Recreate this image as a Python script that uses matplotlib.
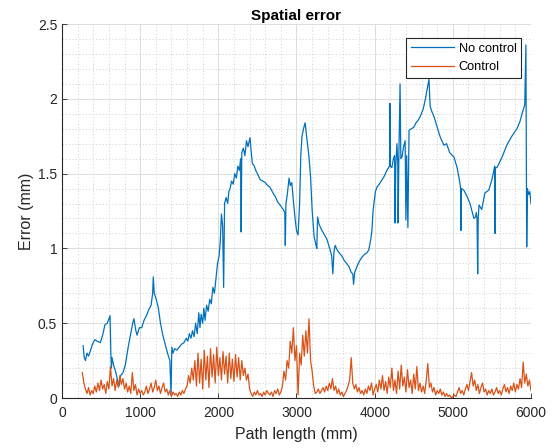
import numpy as np
import matplotlib
matplotlib.use("Agg")
import matplotlib.pyplot as plt
from matplotlib.ticker import MultipleLocator, FuncFormatter

# ---------------- data ----------------
title = "Spatial error"
xlabel = "Path length (mm)"
ylabel = "Error (mm)"
series_names = ["No control", "Control"]

nc_x = [270, 285, 300, 320, 340, 360, 390, 420, 450, 490, 520, 550, 580, 600, 615, 625, 632, 640, 660, 690,
        710, 730, 750, 780, 810, 850, 880, 905, 920, 945, 960, 990, 1020, 1050, 1080, 1110, 1140, 1160, 1168, 1180,
        1200, 1230, 1260, 1290, 1320, 1350, 1380, 1395, 1405, 1420, 1440, 1470, 1500, 1530, 1560, 1590, 1610, 1630, 1650, 1670,
        1690, 1710, 1730, 1750, 1765, 1780, 1800, 1815, 1830, 1850, 1870, 1890, 1910, 1930, 1950, 1970, 1990, 2010, 2025, 2040,
        2055, 2068, 2080, 2100, 2120, 2135, 2150, 2170, 2190, 2210, 2230, 2250, 2270, 2285, 2292, 2300, 2320, 2340, 2360, 2380,
        2405, 2420, 2435, 2460, 2480, 2500, 2535, 2570, 2600, 2630, 2660, 2700, 2725, 2760, 2790, 2830, 2850, 2857, 2865, 2880,
        2905, 2920, 2940, 2960, 2980, 3000, 3020, 3040, 3055, 3070, 3090, 3110, 3130, 3160, 3180, 3200, 3225, 3250, 3260, 3270,
        3290, 3325, 3360, 3390, 3430, 3450, 3465, 3480, 3495, 3520, 3545, 3580, 3610, 3640, 3670, 3700, 3720, 3730, 3745, 3775,
        3800, 3835, 3870, 3900, 3925, 3950, 3965, 3980, 3990, 4010, 4030, 4060, 4095, 4120, 4155, 4190, 4195, 4200, 4220, 4240,
        4255, 4260, 4270, 4285, 4295, 4300, 4310, 4325, 4335, 4350, 4370, 4390, 4400, 4410, 4425, 4440, 4470, 4500, 4530, 4560,
        4590, 4620, 4650, 4670, 4695, 4710, 4735, 4760, 4800, 4835, 4860, 4885, 4920, 4960, 5015, 5055, 5090, 5100, 5105, 5110,
        5140, 5180, 5220, 5250, 5270, 5290, 5300, 5310, 5318, 5325, 5335, 5370, 5410, 5460, 5500, 5525, 5535, 5540, 5545, 5565,
        5630, 5690, 5755, 5820, 5860, 5885, 5920, 5935, 5945, 5955, 5970, 5985, 6000]
nc_y = [0.35, 0.27, 0.25, 0.30, 0.28, 0.31, 0.36, 0.39, 0.38, 0.37, 0.42, 0.49, 0.50, 0.53, 0.55, 0.30, 0.20, 0.27, 0.22, 0.17,
        0.12, 0.08, 0.15, 0.17, 0.22, 0.35, 0.43, 0.50, 0.53, 0.45, 0.42, 0.47, 0.47, 0.52, 0.55, 0.59, 0.62, 0.70, 0.81, 0.70,
        0.67, 0.61, 0.50, 0.42, 0.36, 0.30, 0.25, 0.02, 0.34, 0.30, 0.33, 0.32, 0.34, 0.36, 0.37, 0.40, 0.38, 0.43, 0.40, 0.45,
        0.41, 0.50, 0.43, 0.57, 0.47, 0.56, 0.50, 0.60, 0.52, 0.62, 0.58, 0.66, 0.63, 0.74, 0.70, 0.80, 0.90, 0.95, 1.05, 1.23,
        1.15, 0.74, 1.30, 1.34, 1.30, 1.38, 1.40, 1.45, 1.43, 1.50, 1.47, 1.55, 1.52, 1.60, 1.11, 1.64, 1.67, 1.62, 1.72, 1.68,
        1.74, 1.65, 1.57, 1.55, 1.52, 1.50, 1.46, 1.45, 1.44, 1.42, 1.41, 1.37, 1.35, 1.31, 1.29, 1.26, 1.24, 1.02, 1.30, 1.35,
        1.47, 1.42, 1.44, 1.32, 1.21, 1.12, 1.09, 1.30, 1.62, 1.75, 1.80, 1.84, 1.75, 1.61, 1.48, 1.26, 1.08, 1.02, 1.00, 1.21,
        1.16, 1.12, 1.09, 1.06, 0.99, 0.95, 0.83, 0.98, 1.02, 0.99, 0.97, 0.95, 0.92, 0.90, 0.88, 0.84, 0.83, 0.76, 0.84, 0.88,
        0.91, 0.94, 0.96, 0.97, 0.99, 1.06, 1.12, 1.25, 1.30, 1.38, 1.41, 1.43, 1.46, 1.48, 1.52, 1.55, 1.97, 1.55, 1.54, 1.60,
        1.62, 1.17, 1.55, 1.70, 1.58, 1.17, 1.62, 2.10, 1.60, 1.61, 1.68, 1.72, 1.19, 1.62, 1.14, 1.79, 1.80, 1.81, 1.84, 1.86,
        1.89, 1.93, 2.00, 2.06, 2.13, 1.95, 1.91, 1.88, 1.81, 1.75, 1.72, 1.69, 1.70, 1.64, 1.61, 1.54, 1.44, 1.40, 1.12, 1.40,
        1.39, 1.35, 1.30, 1.24, 1.20, 1.21, 1.24, 1.20, 0.83, 1.20, 1.29, 1.26, 1.37, 1.39, 1.46, 1.52, 1.55, 1.10, 1.54, 1.54,
        1.61, 1.69, 1.75, 1.80, 1.85, 1.90, 1.96, 2.36, 1.01, 1.40, 1.36, 1.38, 1.30]

# Control series, given in segments (start x, end x, values at even spacing)
ctrl_a_range = (260, 1680)
ctrl_a = [0.17, 0.10, 0.06, 0.03, 0.07, 0.02, 0.05, 0.03, 0.08, 0.04, 0.10, 0.05, 0.12, 0.06, 0.09, 0.03, 0.11, 0.06, 0.21, 0.08,
          0.13, 0.05, 0.12, 0.07, 0.15, 0.09, 0.13, 0.06, 0.10, 0.04, 0.08, 0.03, 0.17, 0.05, 0.09, 0.02, 0.06, 0.03, 0.05, 0.02,
          0.04, 0.08, 0.03, 0.06, 0.10, 0.04, 0.07, 0.12, 0.05, 0.08, 0.03, 0.07, 0.10, 0.04, 0.06, 0.02, 0.05, 0.01, 0.04, 0.02,
          0.03, 0.01, 0.04, 0.02, 0.05, 0.03, 0.06, 0.08, 0.15, 0.10, 0.20, 0.12]
ctrl_b_range = (1700, 2400)
ctrl_b = [0.25, 0.08, 0.30, 0.10, 0.26, 0.06, 0.32, 0.12, 0.28, 0.07, 0.33, 0.14, 0.29, 0.10, 0.34, 0.15, 0.27, 0.12, 0.31, 0.16,
          0.28, 0.10, 0.30, 0.13, 0.26, 0.11, 0.29, 0.14, 0.27, 0.12, 0.25, 0.15, 0.20, 0.12, 0.16, 0.06]
ctrl_c_range = (2420, 2800)
ctrl_c = [0.03, 0.01, 0.04, 0.02, 0.05, 0.02, 0.03, 0.01, 0.04, 0.02, 0.05, 0.03, 0.02, 0.04, 0.01, 0.05, 0.03, 0.06, 0.02, 0.04]
ctrl_d_range = (2820, 3240)
ctrl_d = [0.08, 0.18, 0.12, 0.25, 0.20, 0.38, 0.30, 0.47, 0.25, 0.35, 0.02, 0.30, 0.22, 0.42, 0.28, 0.45, 0.30, 0.53, 0.25, 0.18,
          0.08, 0.03]
ctrl_e_range = (3260, 6000)
ctrl_e = [0.04, 0.06, 0.03, 0.05, 0.07, 0.04, 0.08, 0.05, 0.10, 0.06, 0.13, 0.05, 0.08, 0.03, 0.06, 0.02, 0.04, 0.01, 0.03, 0.05,
          0.08, 0.12, 0.27, 0.10, 0.06, 0.09, 0.04, 0.07, 0.03, 0.05, 0.02, 0.06, 0.03, 0.08, 0.05, 0.10, 0.02, 0.06, 0.09, 0.04,
          0.12, 0.06, 0.15, 0.05, 0.11, 0.03, 0.14, 0.07, 0.20, 0.05, 0.12, 0.03, 0.18, 0.06, 0.22, 0.08, 0.14, 0.04, 0.19, 0.07,
          0.12, 0.03, 0.16, 0.06, 0.21, 0.05, 0.10, 0.04, 0.08, 0.03, 0.12, 0.23, 0.07, 0.10, 0.04, 0.07, 0.02, 0.05, 0.03, 0.06,
          0.02, 0.04, 0.01, 0.03, 0.01, 0.02, 0.00, 0.01, 0.02, 0.01, 0.04, 0.07, 0.03, 0.05, 0.02, 0.06, 0.09, 0.05, 0.11, 0.17,
          0.08, 0.12, 0.05, 0.09, 0.03, 0.07, 0.10, 0.04, 0.06, 0.02, 0.05, 0.03, 0.06, 0.02, 0.04, 0.07, 0.03, 0.05, 0.02, 0.06,
          0.09, 0.04, 0.07, 0.03, 0.08, 0.05, 0.10, 0.04, 0.09, 0.06, 0.13, 0.07, 0.24, 0.10, 0.16, 0.08, 0.12, 0.05]

segments = [(ctrl_a_range, ctrl_a), (ctrl_b_range, ctrl_b), (ctrl_c_range, ctrl_c),
            (ctrl_d_range, ctrl_d), (ctrl_e_range, ctrl_e)]
c_x = np.concatenate([np.linspace(r[0], r[1], len(v)) for r, v in segments])
c_y = np.concatenate([np.asarray(v, float) for r, v in segments])

# ---------------- plot ----------------
plt.rcParams['font.family'] = ['Liberation Sans', 'DejaVu Sans']
fig = plt.figure(figsize=(5.57, 4.48), dpi=100)
ax = fig.add_axes([0.1113, 0.1116, 0.8420, 0.8348])

blue = '#0072BD'
orange = '#D95319'
ax.plot(nc_x, nc_y, color=blue, lw=0.9, label=series_names[0])
ax.plot(c_x, c_y, color=orange, lw=0.9, label=series_names[1])

ax.set_xlim(0, 6000)
ax.set_ylim(0, 2.5)
ax.xaxis.set_major_locator(MultipleLocator(1000))
ax.xaxis.set_minor_locator(MultipleLocator(200))
ax.yaxis.set_major_locator(MultipleLocator(0.5))
ax.yaxis.set_minor_locator(MultipleLocator(0.1))
ax.yaxis.set_major_formatter(FuncFormatter(lambda v, p: ('%g' % v)))

ax.grid(True, which='major', color='#dcdcdc', lw=0.7, ls='-')
ax.grid(True, which='minor', color='#d0d0d0', lw=0.6, ls=(0, (1.5, 2.5)))
ax.set_axisbelow(True)

for s in ['top', 'right']:
    ax.spines[s].set_visible(False)
for s in ['left', 'bottom']:
    ax.spines[s].set_color('#262626')
    ax.spines[s].set_linewidth(0.8)

ax.tick_params(which='major', direction='in', length=3.5, width=0.6, colors='#262626',
               labelsize=10, labelcolor='#262626')
ax.tick_params(axis='x', which='major', pad=6)
ax.tick_params(which='minor', length=0)

ax.set_xlabel(xlabel, fontsize=11.5, color='#262626', labelpad=5)
ax.set_ylabel(ylabel, fontsize=11.5, color='#262626', labelpad=3)
ax.set_title(title, fontsize=11, fontweight='bold', color='black', pad=3)

leg = ax.legend(loc='upper right', bbox_to_anchor=(0.979, 0.962), fontsize=9.2,
                frameon=True, fancybox=False, handlelength=3.4, handletextpad=0.35,
                borderpad=0.35, labelspacing=0.5, borderaxespad=0.0)
leg.get_frame().set_edgecolor('#262626')
leg.get_frame().set_linewidth(0.8)
leg.get_frame().set_alpha(1)

fig.savefig('out.png', dpi=100)
